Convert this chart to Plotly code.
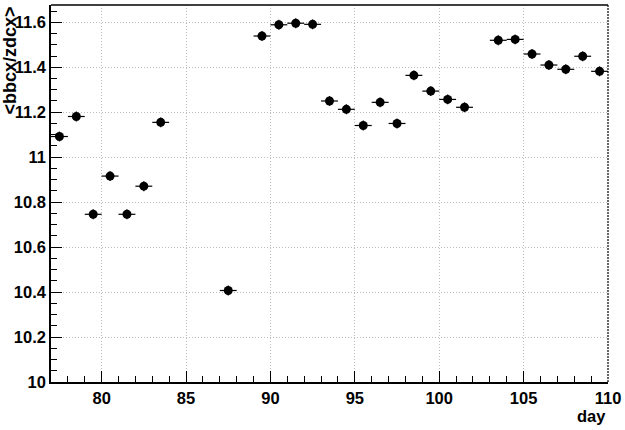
import plotly.graph_objects as go

days = [77.5, 78.5, 79.5, 80.5, 81.5, 82.5, 83.5, 87.5, 89.5, 90.5, 91.5, 92.5,
        93.5, 94.5, 95.5, 96.5, 97.5, 98.5, 99.5, 100.5, 101.5,
        103.5, 104.5, 105.5, 106.5, 107.5, 108.5, 109.5]
ratio = [11.092, 11.181, 10.746, 10.916, 10.746, 10.871, 11.155, 10.407, 11.539, 11.589, 11.596, 11.591,
         11.250, 11.213, 11.141, 11.244, 11.150, 11.364, 11.294, 11.257, 11.222,
         11.520, 11.524, 11.459, 11.410, 11.391, 11.449, 11.382]
xerr = [0.5] * len(days)
yerr = [0.022] * len(days)

fig = go.Figure()
fig.add_trace(go.Scatter(
    x=days, y=ratio, mode="markers",
    marker=dict(color="black", size=9, symbol="circle"),
    error_x=dict(type="data", array=xerr, width=0, thickness=1.2, color="black"),
    error_y=dict(type="data", array=yerr, width=0, thickness=1.2, color="black"),
    showlegend=False,
    cliponaxis=False,
))

tickfont = dict(family="Liberation Sans", size=16.5, color="black", weight="bold")

fig.update_layout(
    width=625, height=430,
    margin=dict(l=51, r=17, t=5, b=48, autoexpand=False),
    paper_bgcolor="white", plot_bgcolor="white",
    font=dict(family="Liberation Sans", size=15, color="black"),
    xaxis=dict(
        range=[77, 110], tickmode="linear", tick0=80, dtick=5,
        automargin=False,
        ticks="inside", ticklen=11, tickwidth=1.3, tickcolor="black",
        minor=dict(ticks="inside", ticklen=6, dtick=1, tick0=77, tickcolor="black", tickwidth=1, showgrid=False),
        showline=True, linecolor="black", linewidth=1.5,
        showgrid=True, gridcolor="#bdbdbd", griddash="1px,2px", gridwidth=1,
        zeroline=False,
        tickfont=tickfont,
    ),
    yaxis=dict(
        range=[10, 11.677], tickmode="linear", tick0=10, dtick=0.2,
        automargin=False,
        tickformat="~g",
        ticks="inside", ticklen=11, tickwidth=1.3, tickcolor="black",
        minor=dict(ticks="inside", ticklen=6, dtick=0.05, tick0=10, tickcolor="black", tickwidth=1, showgrid=False),
        showline=True, linecolor="black", linewidth=1.5,
        showgrid=True, gridcolor="#bdbdbd", griddash="1px,2px", gridwidth=1,
        zeroline=False,
        tickfont=tickfont,
    ),
    shapes=[
        dict(type="line", xref="paper", yref="paper", x0=0, x1=1, y0=1, y1=1,
             line=dict(color="black", width=1.5)),
        dict(type="line", xref="paper", yref="paper", x0=1, x1=1, y0=0, y1=1,
             line=dict(color="black", width=1.2, dash="2px,1px")),
    ],
    annotations=[
        dict(text="<b>&lt;bbcx/zdcx&gt;</b>", textangle=-90, xref="paper", yref="paper",
             x=-0.096, y=1.0, xanchor="left", yanchor="top", showarrow=False,
             font=dict(family="Liberation Sans", size=18, color="black")),
        dict(text="<b>day</b>", xref="paper", yref="paper",
             x=1.0, y=-0.06, xanchor="right", yanchor="top", showarrow=False,
             font=dict(family="Liberation Sans", size=16.5, color="black")),
    ],
)

fig.write_html("out.html", config={"displayModeBar": False},
               post_script="document.body.style.margin='0';document.body.style.overflow='hidden';")
